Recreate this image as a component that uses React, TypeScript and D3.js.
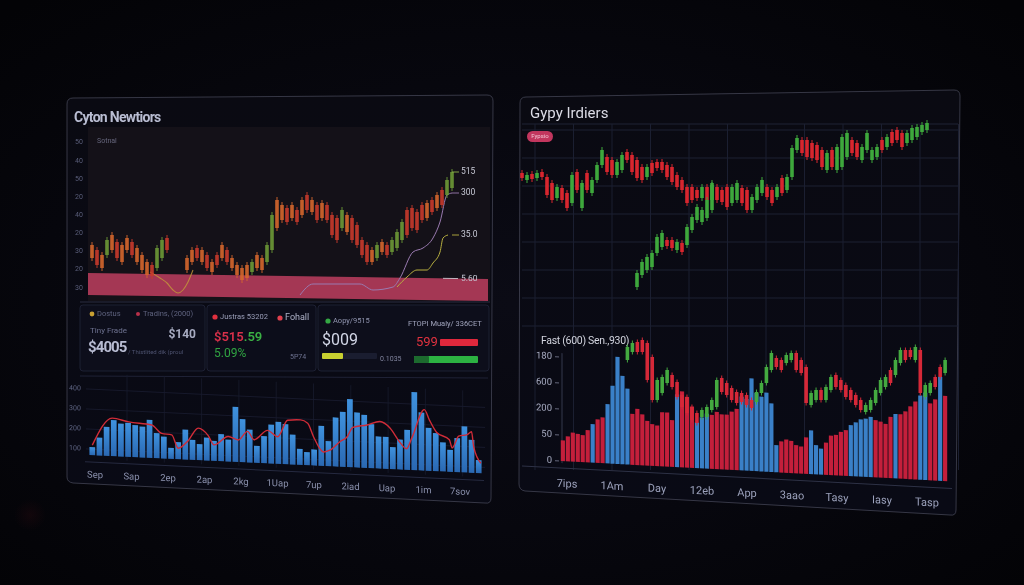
import React from "react";
import * as d3 from "d3";

// ---------- LEFT PANEL: top candlestick chart ----------
const leftTopTickValues = [22, 41, 59, 77, 95, 113, 131, 149, 168];
const leftTopTickLabels = ["30", "20", "30", "20", "40", "20", "50", "40", "50"];
const leftOpen = [65, 60, 55, 55, 75, 68, 65, 72, 68, 62, 55, 48, 45, 42, 52, 72, null, null, null, 52, 60, 62, 60, 55, 48, 55, 65, 60, 52, 45, 42, 45, 38, 55, 52, 48, 60, 110, 105, 102, 105, 100, 110, 115, 110, 105, 107, 105, 95, 92, 82, 95, 92, 85, 70, 65, 60, 52, 68, 65, 58, 62, 70, 100, 102, 98, 105, 107, 110, 115, 120, 115, 122];
const leftClose = [52, 45, 42, 70, 60, 52, 48, 60, 55, 48, 40, 35, 34, 62, 70, 60, null, null, null, 40, 48, 52, 48, 42, 38, 45, 52, 48, 42, 35, 30, 32, 48, 42, 40, 65, 95, 82, 90, 88, 92, 88, 95, 100, 98, 90, 92, 90, 75, 70, 100, 78, 70, 65, 55, 48, 48, 65, 58, 55, 70, 78, 88, 75, 82, 80, 90, 92, 98, 102, 105, 130, 138];
const leftTone = "OROGOROORO" + "OORGGR---O" + "OROROROROO" + "OOGOOGGOOR" + "ORORORORRR" + "GORRRROGOR" + "GGGRRRRORO" + "RGG";
const leftYellowLine: [number, number][] = [[11.6, 38], [13.6, 32], [15, 27], [16.2, 20], [17.2, 17], [18.2, 20], [19.2, 28], [20.2, 40]];
const leftLavenderLine: [number, number][] = [[41.6, 15], [44.2, 26], [53.6, 26], [56.2, 20], [60.2, 23], [61.6, 32], [64.2, 58], [66.2, 62], [68.2, 72], [69.6, 88], [71, 115], [72, 117]];
const leftOliveLine: [number, number][] = [[61, 23], [63, 33], [65, 40], [67, 40], [68.2, 47], [69.6, 58], [70.2, 72], [71.2, 75]];
const bandHigh = 37;
const bandLow = 15;
const endLabels = ["515", "300", "35.0", "5.60"];

// ---------- LEFT PANEL: volume chart ----------
const leftVolTicks = [100, 200, 300, 400];
const leftVolTickLabels = ["100", "200", "300", "400"];
const leftVolume = [110, 160, 215, 250, 235, 240, 230, 225, 260, 195, 180, 125, 155, 220, 170, 150, 185, 170, 205, 180, 345, 285, 235, 155, 205, 265, 280, 270, 220, 150, 135, 150, 270, 195, 315, 345, 410, 345, 335, 290, 230, 230, 180, 220, 270, 460, 360, 285, 260, 215, 180, 240, 300, 235, 135];
const leftVolAvg: [number, number][] = [[0, 120], [2.8, 260], [5.1, 245], [8.3, 235], [9.7, 195], [11.1, 190], [12, 125], [13.4, 165], [14.8, 230], [16.2, 195], [17, 150], [19, 195], [20.4, 180], [21.7, 225], [22.6, 185], [24.5, 235], [25.9, 205], [27.3, 290], [29.1, 295], [30.1, 280], [30.9, 215], [32.3, 140], [33.2, 150], [34.6, 195], [35.6, 220], [36.4, 270], [38.4, 285], [40.2, 305], [41.6, 275], [42.9, 210], [43.9, 175], [44.7, 235], [46.4, 375], [47.1, 325], [48.1, 265], [49.9, 230], [50.3, 190], [51.2, 250], [52.4, 260], [53, 275], [53.3, 200], [54.3, 120]];
const leftVolLabels = ["Sep", "Sap", "2ep", "2ap", "2kg", "1Uap", "7up", "2iad", "Uap", "1im", "7sov"];

// ---------- RIGHT PANEL: top candlestick chart ----------
const rightOpen = [127, 120, 126, 122, 128, 123, 117, 102, 112, 107, 97, 128, 92, 127, 107, 120, 135, 143, 140, 125, 130, 148, 145, 140, 133, 123, 137, 138, 138, 135, 133, 125, 120, 113, 113, 110, 102, 113, 100, 113, 110, 113, 97, 100, 112, 110, 90, 100, 107, 113, 110, 103, 122, 110, 123, 150, 160, 160, 157, 155, 150, 130, 150, 130, 133, 143, 160, 157, 140, 150, 140, 143, 160, 153, 168, 170, 167, 157, 160, 163, 168, 170];
const rightClose = [122, 125, 121, 127, 123, 105, 100, 113, 100, 92, 125, 110, 117, 110, 120, 135, 150, 128, 125, 138, 145, 140, 128, 122, 120, 133, 127, 132, 130, 123, 118, 113, 110, 97, 100, 102, 113, 100, 115, 100, 98, 93, 113, 117, 97, 90, 103, 113, 120, 103, 97, 113, 107, 123, 152, 162, 147, 143, 142, 140, 133, 147, 133, 153, 163, 167, 147, 143, 153, 167, 150, 153, 150, 163, 157, 160, 153, 167, 172, 173, 175, 177];
const riseIndex = [23, 24, 25, 26, 27, 28, 29, 30, 31, 32, 33, 34, 35, 36, 37, 38];
const riseOpen = [13, 25, 30, 33, 47, 53, 60, 60, 50, 57, 55, 70, 80, 78, 82, 90];
const riseClose = [27, 38, 43, 47, 63, 67, 54, 52, 58, 48, 73, 83, 93, 90, 100, 117];
const rightGridValues = [170, 142, 114, 86, 58, 30, 2, -26];

// ---------- RIGHT PANEL: bottom bars + candles ----------
const rbTicks = [0, 25, 50, 75, 100];
const rbTickLabels = ["0", "50", "200", "600", "180"];
const rbBars = [20, 24, 28, 27, 26, 31, 37, 42, 44, 57, 75, 103, 85, 73, 49, 54, 49, 43, 40, 39, 52, 52, 45, 70, 73, 68, 59, 44, 49, 53, 52, 55, 53, 53, 56, 59, 71, 69, 89, 75, 72, 76, 66, 26, 30, 32, 31, 27, 26, 35, 42, 28, 25, 31, 38, 39, 42, 44, 49, 52, 55, 56, 58, 55, 54, 52, 59, 62, 62, 65, 70, 75, 81, 84, 74, 78, 100, 82];
const rbBarKind = "RRRRRR" + "B" + "RR" + "BBBBB" + "RRRRRRRRR" + "B" + "RRR" + "BBB" + "RRRRRR" + "BBBBBBBB" + "RRRRRR" + "BBB" + "RRRRR" + "BBBBB" + "RRRR" + "B" + "RRRR" + "BB" + "RR" + "B" + "R";
const rbCandleStart = 13;
const rbOpen = [110, 118, 128, 130, 127, 113, 70, 77, 87, 95, 88, 75, 73, 63, 57, 53, 53, 60, 63, 92, 87, 82, 78, 77, 75, 70, 68, 77, 87, 100, 112, 110, 107, 110, 117, 110, 103, 65, 70, 80, 70, 80, 95, 90, 85, 80, 75, 70, 58, 60, 67, 77, 83, 100, 95, 107, 120, 120, 110, 120, 73, 77, 93, 103, 97];
const rbClose = [123, 127, 118, 118, 90, 70, 90, 93, 100, 83, 73, 63, 57, 50, 47, 60, 63, 70, 90, 78, 75, 70, 67, 68, 65, 62, 78, 87, 103, 117, 103, 100, 115, 117, 100, 97, 67, 77, 80, 70, 83, 93, 83, 80, 73, 70, 65, 60, 65, 70, 80, 90, 93, 87, 110, 120, 110, 113, 123, 77, 85, 87, 83, 93, 110];
const rbLabels = ["7ips", "1Am", "Day", "12eb", "App", "3aao", "Tasy", "Iasy", "Tasp"];

const FONT = "Roboto, 'Open Sans', 'DejaVu Sans', sans-serif";

function Candle(props: { x: number; yo: number; yc: number; color: string; w: number; wick: number; op?: number }) {
  const { x, yo, yc, color, w, wick, op = 1 } = props;
  const y1 = Math.min(yo, yc);
  const y2 = Math.max(yo, yc);
  return (
    <g opacity={op}>
      <line x1={x} x2={x} y1={y1 - wick} y2={y2 + wick} stroke={color} strokeWidth={1} />
      <rect x={x - w / 2} y={y1} width={w} height={Math.max(1.2, y2 - y1)} fill={color} />
    </g>
  );
}

export default function App() {
  // left top scales
  const ltX = d3.scaleLinear().domain([0, leftOpen.length - 1]).range([92, 452]);
  const ltY = d3.scaleLinear().domain([0, 182]).range([310, 128]);
  const ltLine = d3.line<[number, number]>().x((d) => ltX(d[0])).y((d) => ltY(d[1])).curve(d3.curveMonotoneX);
  const toneColor: Record<string, string> = { O: "#d6672c", R: "#c93a2b", G: "#6d9a36" };

  // left volume
  const lvX = d3.scaleBand<number>().domain(d3.range(leftVolume.length)).range([0, 395]).padding(0.2);
  const lvY = d3.scaleLinear().domain([70, 470]).range([0, -80]);
  const lvC = d3.scaleLinear().domain([0, leftVolume.length - 1]).range([lvX(0)! + lvX.bandwidth() / 2, lvX(leftVolume.length - 1)! + lvX.bandwidth() / 2]);
  const lvLine = d3.line<[number, number]>().x((d) => lvC(d[0])).y((d) => lvY(d[1])).curve(d3.curveMonotoneX);
  const lvLab = d3.scalePoint<string>().domain(leftVolLabels).range([7, 372]);

  // right top
  const rtX = d3.scaleLinear().domain([0, rightOpen.length - 1]).range([522, 927]);
  const rtY = d3.scaleLinear().domain([0, 200]).range([300, 100]);
  const rGrid = d3.range(535, 960, 38.5);

  // right bottom
  const rbX = d3.scaleBand<number>().domain(d3.range(rbBars.length)).range([0, 388]).padding(0.16);
  const rbY = d3.scaleLinear().domain([0, 100]).range([0, -104]);
  const rbP = d3.scaleLinear().domain([0, 140]).range([470, 330]);
  const rbLab = d3.scalePoint<string>().domain(rbLabels).range([7, 367]);

  const ltEndVals = [leftClose[leftClose.length - 1] as number, leftLavenderLine[leftLavenderLine.length - 1][1], leftOliveLine[leftOliveLine.length - 1][1]];

  return (
    <svg width={1024} height={585} style={{ position: "fixed", left: 0, top: 0, display: "block" }} fontFamily={FONT}>
      <defs>
        <radialGradient id="bg" cx="50%" cy="52%" r="70%">
          <stop offset="0%" stopColor="#0b0b15" />
          <stop offset="55%" stopColor="#07070e" />
          <stop offset="100%" stopColor="#030306" />
        </radialGradient>
        <linearGradient id="blueBar" x1="0" y1="0" x2="0" y2="1">
          <stop offset="0%" stopColor="#3f92de" />
          <stop offset="100%" stopColor="#2a68b2" />
        </linearGradient>
        <linearGradient id="panelFill" x1="0" y1="0" x2="0" y2="1">
          <stop offset="0%" stopColor="#0a0a12" />
          <stop offset="100%" stopColor="#090a15" />
        </linearGradient>
        <radialGradient id="redGlow" cx="50%" cy="50%" r="50%">
          <stop offset="0%" stopColor="#2a0a10" stopOpacity={0.35} />
          <stop offset="100%" stopColor="#2a0a10" stopOpacity={0} />
        </radialGradient>
      </defs>
      <rect x={0} y={0} width={1024} height={585} fill="url(#bg)" />
      <circle cx={30} cy={515} r={16} fill="url(#redGlow)" />

      {/* ================= LEFT PANEL ================= */}
      <path d="M67,104 Q67,98 73,98 L487,95 Q493,95 493,101 L491,498 Q491,504 485,503 L73,483 Q67,482 67,477 Z" fill="url(#panelFill)" stroke="#4a4b5c" strokeOpacity={0.7} strokeWidth={1} />
      <text x={74} y={122} fontSize={14} fontWeight={700} fill="#b9bdd2" letterSpacing={-0.7}>Cyton Newtiors</text>
      {/* chart area */}
      <rect x={88} y={127} width={402} height={174} fill="#141118" />
      <text x={97} y={143} fontSize={7} fill="#66667c">Sotnal</text>
      {leftTopTickValues.map((v, i) => (
        <text key={"lty" + i} x={79} y={ltY(v)} fontSize={7} fill="#5a5e7a" textAnchor="middle" dominantBaseline="middle">{leftTopTickLabels[i]}</text>
      ))}
      {/* band */}
      <g transform="translate(88,0) skewY(0.86)">
        <rect x={0} y={ltY(bandHigh)} width={400} height={ltY(bandLow) - ltY(bandHigh)} fill="#b43c5b" opacity={0.9} />
        <line x1={355} x2={370} y1={ltY(bandHigh)} y2={ltY(bandHigh)} stroke="#d8d8e0" strokeWidth={0.8} />
        <text x={373} y={ltY(bandHigh)} fontSize={8.5} fill="#c8cad6" dominantBaseline="middle">{endLabels[3]}</text>
      </g>
      {/* lines */}
      <path d={ltLine(leftYellowLine) || ""} fill="none" stroke="#c49a3a" strokeWidth={1.1} opacity={0.8} />
      <path d={ltLine(leftLavenderLine) || ""} fill="none" stroke="#9a7ab0" strokeWidth={1} />
      <path d={ltLine(leftOliveLine) || ""} fill="none" stroke="#b8b040" strokeWidth={1} />
      {/* candles */}
      {leftOpen.map((o, i) => {
        const c = leftClose[i];
        if (o === null || c === null) return null;
        return <Candle key={"lc" + i} x={ltX(i)} yo={ltY(o)} yc={ltY(c)} color={toneColor[leftTone[i]]} w={3.6} wick={3} op={0.9} />;
      })}
      {/* end labels */}
      {ltEndVals.map((v, i) => (
        <g key={"le" + i}>
          <line x1={452} x2={459} y1={ltY(v)} y2={ltY(v)} stroke={["#8fb44a", "#9a7ab0", "#b8b040"][i]} strokeWidth={0.9} />
          <text x={461} y={ltY(v)} fontSize={8.5} fill="#c8cad6" dominantBaseline="middle">{endLabels[i]}</text>
        </g>
      ))}
      <line x1={80} x2={490} y1={302} y2={302} stroke="#2a2c40" strokeWidth={1} />

      {/* stats cards */}
      <rect x={80} y={305} width={125} height={66} rx={3} fill="#0d0e1b" stroke="#1d2033" />
      <rect x={207} y={305} width={109} height={66} rx={3} fill="#0c0d1a" stroke="#1d2033" />
      <rect x={318} y={305} width={171} height={66} rx={3} fill="#0d0e1b" stroke="#1d2033" />
      {/* card 1 */}
      <circle cx={92} cy={314} r={2.4} fill="#c8a032" />
      <text x={97} y={314} fontSize={7.5} fill="#5e627e" dominantBaseline="middle">Dostus</text>
      <circle cx={138} cy={314} r={2} fill="#b8304a" />
      <text x={143} y={314} fontSize={7.5} fill="#5e627e" dominantBaseline="middle">Tradins, (2000)</text>
      <text x={90} y={331} fontSize={8} fill="#6e7290" dominantBaseline="middle">Tiny Frade</text>
      <text x={196} y={335} fontSize={12} fontWeight={700} fill="#a8acc2" textAnchor="end" dominantBaseline="middle">$140</text>
      <text x={88} y={348} fontSize={15} fontWeight={700} fill="#b8bcd2" dominantBaseline="middle" letterSpacing={-0.9}>$4005</text>
      <text x={128} y={352} fontSize={6} fill="#4e5370" dominantBaseline="middle">/ Thistlited dik (proul</text>
      {/* card 2 */}
      <circle cx={215} cy={317} r={2.6} fill="#e0303f" />
      <text x={220} y={317} fontSize={7.5} fill="#9a9eb8" dominantBaseline="middle">Justras 53202</text>
      <circle cx={280} cy={318} r={2.6} fill="#e0404e" />
      <text x={285} y={318} fontSize={9} fill="#aeb2c8" dominantBaseline="middle">Fohall</text>
      <text x={214} y={338} fontSize={13} fontWeight={600} dominantBaseline="middle">
        <tspan fill="#d8304a">$515</tspan>
        <tspan fill="#3ab044">.59</tspan>
      </text>
      <text x={214} y={354} fontSize={12} fill="#30a442" dominantBaseline="middle">5.09%</text>
      <text x={290} y={357} fontSize={7} fill="#6e7290" dominantBaseline="middle">5P74</text>
      {/* card 3 */}
      <circle cx={328} cy={321} r={2.6} fill="#34a844" />
      <text x={333} y={321} fontSize={7.5} fill="#9094ae" dominantBaseline="middle">Aopy/9515</text>
      <text x={408} y={324} fontSize={7.5} fill="#a0a4bc" dominantBaseline="middle">FTOPI Mualy/ 336CET</text>
      <text x={322} y={341} fontSize={16} fill="#d2d6e6" dominantBaseline="middle">$009</text>
      <text x={416} y={343} fontSize={13} fill="#e0323f" dominantBaseline="middle">599</text>
      <rect x={440} y={339} width={38} height={7} fill="#e0283c" rx={1} />
      <rect x={322} y={353} width={55} height={6} fill="#1a1d30" rx={1} />
      <rect x={322} y={353} width={21} height={6} fill="#c8d030" rx={1} />
      <text x={380} y={359} fontSize={7} fill="#80849e" dominantBaseline="middle">0.1035</text>
      <rect x={414} y={356} width={64} height={7} fill="#2cb242" rx={1} />
      <rect x={414} y={356} width={15} height={7} fill="#1c6a2e" rx={1} />

      <line x1={80} x2={488} y1={376} y2={378} stroke="#1f2236" strokeWidth={1} />

      {/* volume chart (perspective skew) */}
      <g transform="translate(88,455) skewY(2.66)">
        {leftVolTicks.map((v, i) => (
          <g key={"lvt" + i}>
            <line x1={-2} x2={397} y1={lvY(v)} y2={lvY(v)} stroke="#1a1d30" strokeWidth={0.8} />
            <text x={-13} y={lvY(v)} fontSize={7} fill="#5e6482" textAnchor="middle" dominantBaseline="middle">{leftVolTickLabels[i]}</text>
          </g>
        ))}
        {d3.range(39, 396, 37.3).map((x, i) => (
          <line key={"lvg" + i} x1={x} x2={x} y1={-82} y2={4} stroke="#181b2c" strokeWidth={0.8} />
        ))}
        {leftVolume.map((v, i) => (
          <rect key={"lvb" + i} x={lvX(i)} y={lvY(v)} width={lvX.bandwidth()} height={lvY(70) - lvY(v)} fill="url(#blueBar)" />
        ))}
        <path d={lvLine(leftVolAvg) || ""} fill="none" stroke="#d02c38" strokeWidth={1.4} />
        <line x1={-3} x2={396} y1={7} y2={7} stroke="#262a40" strokeWidth={1} />
        {leftVolLabels.map((l) => (
          <text key={"lvl" + l} x={lvLab(l)} y={20} fontSize={9.5} fill="#8a90ac" textAnchor="middle" dominantBaseline="middle">{l}</text>
        ))}
      </g>

      {/* ================= RIGHT PANEL ================= */}
      <path d="M520,103 Q520,97 526,97 L954,90 Q960,90 960,96 L956,510 Q956,516 950,515 L525,491 Q519,490 519,484 Z" fill="url(#panelFill)" stroke="#4a4b5c" strokeOpacity={0.7} strokeWidth={1} />
      <text x={530} y={118} fontSize={15} fill="#dcdce6">Gypy Irdiers</text>
      {/* grid */}
      <line x1={522} x2={958} y1={124} y2={124} stroke="#1e2234" strokeWidth={1} />
      {rightGridValues.map((v, i) => (
        <line key={"rgh" + i} x1={522} x2={958} y1={rtY(v)} y2={rtY(v)} stroke="#1d2133" strokeWidth={1} />
      ))}
      {rGrid.map((x, i) => (
        <line key={"rgv" + i} x1={x} x2={x} y1={124} y2={470} stroke="#1b1f31" strokeWidth={1} />
      ))}
      <rect x={527} y={131} width={26} height={11} rx={5.5} fill="#c2365e" />
      <text x={540} y={136.8} fontSize={6} fill="#f2c4d4" textAnchor="middle" dominantBaseline="middle">Fypsio</text>
      {/* candles */}
      {rightOpen.map((o, i) => (
        <Candle key={"rc" + i} x={rtX(i)} yo={rtY(o)} yc={rtY(rightClose[i])} color={rightClose[i] >= o ? "#3ea83c" : "#d8262e"} w={3.6} wick={3} />
      ))}
      {riseIndex.map((idx, i) => (
        <Candle key={"rr" + i} x={rtX(idx)} yo={rtY(riseOpen[i])} yc={rtY(riseClose[i])} color={riseClose[i] >= riseOpen[i] ? "#3ea83c" : "#d8262e"} w={3.6} wick={3} />
      ))}

      {/* bottom chart */}
      <text x={541} y={344} fontSize={10.5} fill="#d2d4de" letterSpacing={-0.3}>Fast (600) Sen.,930)</text>
      <g transform="translate(560,461) skewY(2.98)">
        <line x1={2} x2={2} y1={-108} y2={2} stroke="#34384c" strokeWidth={1} />
        {rbTicks.map((v, i) => (
          <g key={"rbt" + i}>
            <line x1={-5} x2={-1} y1={rbY(v)} y2={rbY(v)} stroke="#7a7e94" strokeWidth={0.8} />
            <text x={-8} y={rbY(v)} fontSize={9.5} fill="#a8acc2" textAnchor="end" dominantBaseline="middle">{rbTickLabels[i]}</text>
          </g>
        ))}
        {rbBars.map((v, i) => (
          <rect key={"rbb" + i} x={rbX(i)} y={rbY(v)} width={rbX.bandwidth()} height={-rbY(v)} fill={rbBarKind[i] === "B" ? "#3a80c8" : "#c41f3b"} />
        ))}
        <line x1={-38} x2={392} y1={7} y2={7} stroke="#2e3246" strokeWidth={1} />
        {rbLabels.map((l) => (
          <text key={"rbl" + l} x={rbLab(l)} y={23} fontSize={11} fill="#9ca2bc" textAnchor="middle" dominantBaseline="middle">{l}</text>
        ))}
      </g>
      <g transform="translate(560,0)">
        {rbOpen.map((o, i) => {
          const idx = rbCandleStart + i;
          const cx = rbX(idx)! + rbX.bandwidth() / 2;
          return <Candle key={"rbc" + i} x={cx} yo={rbP(o)} yc={rbP(rbClose[i])} color={rbClose[i] >= o ? "#44aa40" : "#d62838"} w={3.6} wick={2.5} />;
        })}
      </g>
    </svg>
  );
}
